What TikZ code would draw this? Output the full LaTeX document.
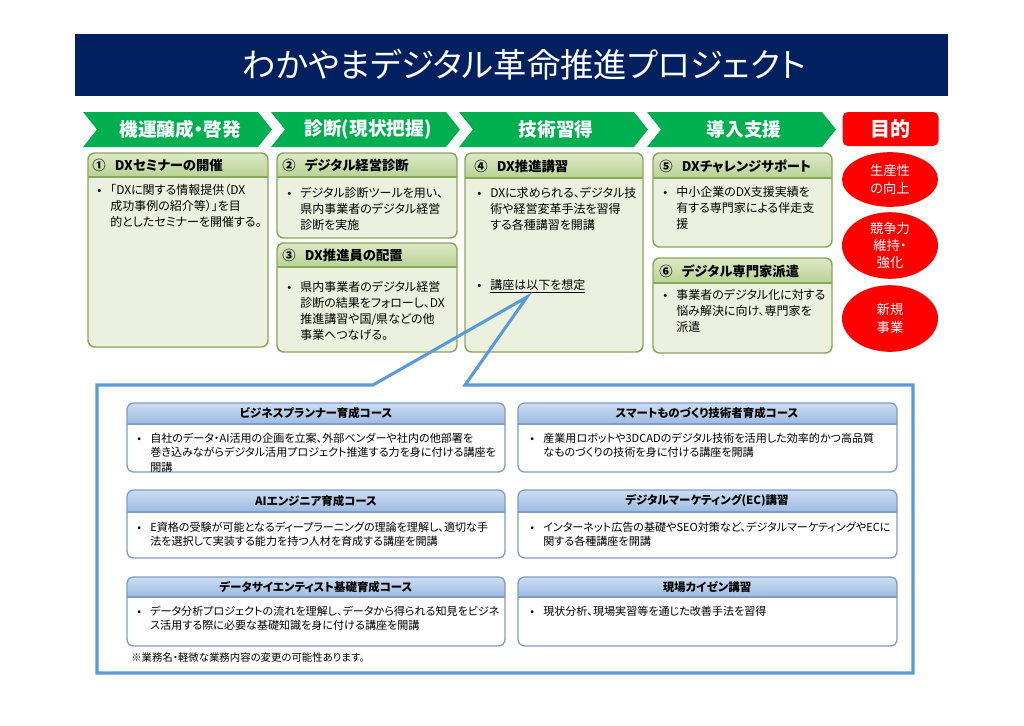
\documentclass[tikz,border=0pt]{standalone}
\usepackage{fontspec}
\setmainfont{Noto Sans CJK JP}[RawFeature=+palt]
\usetikzlibrary{shapes.geometric}
\definecolor{navy}{HTML}{002060}
\definecolor{chevgreen}{HTML}{00B050}
\definecolor{goalred}{HTML}{FF0000}
\definecolor{gbody}{HTML}{EBF1DE}
\definecolor{ghtop}{HTML}{DDE9C8}
\definecolor{ghbot}{HTML}{B8D292}
\definecolor{gborder}{HTML}{86A85A}
\definecolor{bhtop}{HTML}{CCDDF2}
\definecolor{bhbot}{HTML}{9DBBE2}
\definecolor{bborder}{HTML}{7F9CC6}
\definecolor{callout}{HTML}{5B9BD5}
\newcommand{\bl}[1]{\makebox[9.75pt][l]{•}\begin{tabular}[t]{@{}l@{}}#1\end{tabular}}
\newcommand{\chev}[3]{%
  \fill[chevgreen] (#2,112) -- ++(175,0) -- ++(14,17.5) -- ++(-14,17.5) -- ++(-175,0) -- ++(14,-17.5) -- cycle;
  \node[chevtext] (#1) at (#2+97,129.5) {#3};}
\newcommand{\gbox}[5]{%
  \fill[gbody, rounded corners=5] (#1,#2) rectangle (#3,#4);
  \begin{scope}
    \clip[rounded corners=5] (#1,#2) rectangle (#3,#4);
    \shade[top color=ghtop, bottom color=ghbot] (#1,#2) rectangle (#3,#5);
  \end{scope}
  \draw[gborder, line width=1pt] (#1,#5) -- (#3,#5);
  \draw[gborder, line width=1.1pt, rounded corners=5] (#1,#2) rectangle (#3,#4);}
\newcommand{\cbox}[5]{%
  \fill[white, rounded corners=5] (#1,#2) rectangle (#3,#4);
  \begin{scope}
    \clip[rounded corners=5] (#1,#2) rectangle (#3,#4);
    \shade[top color=bhtop, bottom color=bhbot] (#1,#2) rectangle (#3,#5);
  \end{scope}
  \draw[bborder, line width=0.8pt] (#1,#5) -- (#3,#5);
  \draw[bborder, line width=1pt, rounded corners=5] (#1,#2) rectangle (#3,#4);}
\tikzset{
  titletext/.style={text=white, inner sep=0, font=\fontsize{25}{28}\selectfont},
  chevtext/.style={text=white, inner sep=0, font=\fontsize{14}{16}\selectfont\bfseries},
  hd/.style={anchor=west, inner sep=0, font=\fontsize{10}{12}\selectfont\bfseries},
  bd/.style={anchor=base west, inner sep=0, font=\fontsize{9}{12}\selectfont},
  chd/.style={inner sep=0, font=\fontsize{8.6}{11}\selectfont\bfseries},
  cbd/.style={anchor=base west, inner sep=0, font=\fontsize{8.3}{11}\selectfont},
  goal/.style={ellipse, fill=goalred, text=white, inner sep=0, minimum width=72pt, align=center, font=\fontsize{10}{13}\selectfont},
}
\begin{document}
\begin{tikzpicture}[x=0.75pt,y=-0.75pt]
\useasboundingbox (0,0) rectangle (1024,725);
\fill[white] (0,0) rectangle (1024,725);

% title bar
\fill[navy] (75,34) rectangle (948,96);
\node[titletext] (title) at (524,65) {わかやまデジタル革命推進プロジェクト};

% chevrons
\chev{c1}{83}{機運醸成・啓発}
\chev{c2}{271}{診断(現状把握)}
\chev{c3}{459}{技術習得}
\chev{c4}{647}{導入支援}
\node[fill=goalred, rounded corners=4pt, minimum width=72pt, minimum height=25.5pt, text=white, inner sep=0, font=\fontsize{15}{17}\selectfont\bfseries] (goalhd) at (890.5,129) {目的};

% green boxes
\gbox{88}{153}{268}{347}{177}
\node[hd] (h1) at (92,165) {①\hspace{0.7em}DXセミナーの開催};
\node[bd] (b1) at (97,194.5) {\bl{「DXに関する情報提供（DX\\成功事例の紹介等）」を目\\的としたセミナーを開催する。}};

\gbox{277}{153}{457}{238}{177}
\node[hd] (h2) at (282,165) {②\hspace{0.7em}デジタル経営診断};
\node[bd] (b2) at (287,197) {\bl{デジタル診断ツールを用い、\\県内事業者のデジタル経営\\診断を実施}};

\gbox{277}{243}{457}{352}{267}
\node[hd] (h3) at (282,255) {③\hspace{0.7em}DX推進員の配置};
\node[bd] (b3) at (287,291) {\bl{県内事業者のデジタル経営\\診断の結果をフォローし、DX\\推進講習や国/県などの他\\事業へつなげる。}};

\gbox{465}{153}{643}{352}{178}
\node[hd] (h4) at (474,166) {④\hspace{0.7em}DX推進講習};
\node[bd] (b4) at (477,197) {\bl{DXに求められる、デジタル技\\術や経営変革手法を習得\\する各種講習を開講}};
\node[bd] (b4b) at (477,289) {\bl{\underline{講座は以下を想定}}};

\gbox{653}{153}{832}{247}{178}
\node[hd] (h5) at (659,166) {⑤\hspace{0.7em}DXチャレンジサポート};
\node[bd] (b5) at (663,196) {\bl{中小企業のDX支援実績を\\有する専門家による伴走支\\援}};

\gbox{653}{258}{832}{353}{283}
\node[hd] (h6) at (659,271) {⑥\hspace{0.7em}デジタル専門家派遣};
\node[bd] (b6) at (663,299) {\bl{事業者のデジタル化に対する\\悩み解決に向け、専門家を\\派遣}};

% goals
\node[goal, minimum height=41pt] (g1) at (890,179.5) {生産性\\の向上};
\node[goal, minimum height=49pt] (g2) at (890,245.5) {競争力\\維持・\\強化};
\node[goal, minimum height=50pt] (g3) at (890,318.5) {新規\\事業};

% callout
\coordinate (tip) at (527,297);
\draw[callout, line width=2.3pt, line join=miter] (97,385) -- (373,385) -- (tip) -- (465,385) -- (913,385) -- (913,673) -- (97,673) -- cycle;

% course boxes
\cbox{127}{403}{505}{472}{424}
\node[chd] (ch1) at (316,413.5) {ビジネスプランナー育成コース};
\node[cbd] (cb1) at (137,442) {\bl{自社のデータ・AI活用の企画を立案、外部ベンダーや社内の他部署を\\巻き込みながらデジタル活用プロジェクト推進する力を身に付ける講座を\\開講}};

\cbox{127}{490}{505}{558}{512}
\node[chd] (ch2) at (316,501) {AIエンジニア育成コース};
\node[cbd] (cb2) at (137,531) {\bl{E資格の受験が可能となるディープラーニングの理論を理解し、適切な手\\法を選択して実装する能力を持つ人材を育成する講座を開講}};

\cbox{127}{577}{505}{646}{597}
\node[chd] (ch3) at (316,587) {データサイエンティスト基礎育成コース};
\node[cbd] (cb3) at (137,615) {\bl{データ分析プロジェクトの流れを理解し、データから得られる知見をビジネ\\ス活用する際に必要な基礎知識を身に付ける講座を開講}};

\cbox{518}{403}{897}{472}{424}
\node[chd] (ch4) at (707,413.5) {スマートものづくり技術者育成コース};
\node[cbd] (cb4) at (530,442) {\bl{産業用ロボットや3DCADのデジタル技術を活用した効率的かつ高品質\\なものづくりの技術を身に付ける講座を開講}};

\cbox{518}{490}{897}{558}{512}
\node[chd] (ch5) at (707,501) {デジタルマーケティング(EC)講習};
\node[cbd] (cb5) at (530,531) {\bl{インターネット広告の基礎やSEO対策など、デジタルマーケティングやECに\\関する各種講座を開講}};

\cbox{518}{577}{897}{646}{597}
\node[chd] (ch6) at (707,587) {現場カイゼン講習};
\node[cbd] (cb6) at (530,615) {\bl{現状分析、現場実習等を通じた改善手法を習得}};

\node[anchor=west, inner sep=0, font=\fontsize{7.8}{10}\selectfont] (note) at (131,658) {※業務名・軽微な業務内容の変更の可能性あります。};
\end{tikzpicture}
\end{document}
